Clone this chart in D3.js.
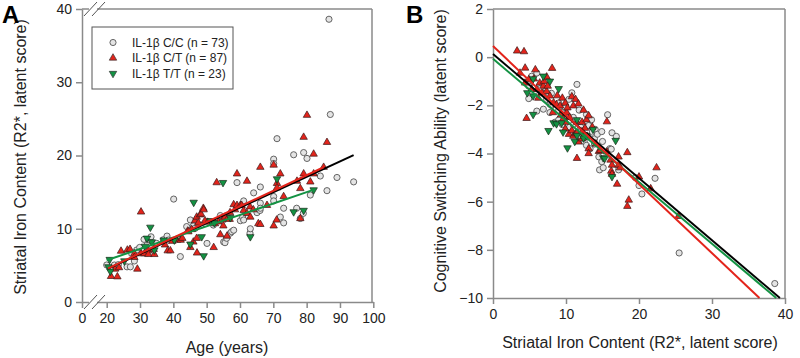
<!DOCTYPE html>
<html>
<head>
<meta charset="utf-8">
<script src="https://cdn.jsdelivr.net/npm/d3@7"></script>
<style>
  body { margin: 0; background: #fff; }
  svg { font-family: "Liberation Sans", Arial, sans-serif; }
</style>
</head>
<body>
<div id="chart-area"></div>
<script>
// panel A : age vs striatal iron, per IL-1b genotype
var ccA = [[20,5.05],[22.3,5.05],[23.1,4.7],[23.5,5.1],[26.1,4.8],[27.1,4.8],[27.5,6.6],[28.3,5.6],[29,7.1],[29.9,7.45],
  [31.3,7.2],[31.2,8.55],[32.1,7.8],[32.5,8.55],[33,8.45],[33.3,8.9],[35,8],[37,8.5],[38.1,9.0],[38.5,8.45],[40.1,14.05],
  [42.1,6.2],[44,10.3],[45.1,11.2],[46,10.4],[46.5,10.05],[48.3,10.5],[50.1,8.0],[52,10.5],[54.1,11.8],[55.1,8.2],
  [55.5,8.1],[56,8.7],[57.1,9.4],[57.5,9.6],[58.1,9.8],[59.1,16.3],[60.1,11.1],[60.8,11.6],[61.1,11.2],[61.1,13.8],
  [63,9.4],[63.1,10.0],[64.1,14.9],[65.1,12.2],[66,12.5],[66.1,15.7],[66.1,13.5],[66.1,12.8],[70.1,19.5],[70.1,18.9],
  [70.1,14.4],[70.1,13.8],[71.1,22.3],[72.1,11.6],[73.1,12.8],[73.1,10.8],[76.1,20.1],[77,12.8],[78.1,11.4],[79,12.1],
  [79.1,20.4],[80.1,19.6],[81.1,14.6],[84.1,17.2],[86.1,15.2],[86.7,38.6],[87.1,25.6],[89.1,17.0],[94.1,16.4]];
var ctA = [[21.3,3.5],[22.5,4.5],[23.2,3.45],[23.7,4.7],[24.3,6.95],[26.2,7.1],[27,7.2],[28.3,6.6],[28.3,6.1],[29.2,4.5],
  [30.3,6.6],[30.3,12.3],[31.3,6.6],[32.5,7.0],[32.5,6.5],[34.1,7.2],[34.3,6.5],[37.5,7.8],[38.3,7.0],[39.1,7.0],
  [39.7,8.3],[41.1,8.45],[42.2,8.45],[42.7,8.7],[44.3,9.7],[44.5,9.6],[45.1,7.45],[45.5,9.9],[46,8.2],[46.5,11.1],
  [47,8.7],[47,11.6],[47.1,6.7],[47.5,10.8],[48,11.9],[48.3,12.0],[49,12.8],[49.1,12.6],[49.5,11.1],[50.3,10.9],
  [52.1,7.45],[52.5,10.7],[53,16.3],[53.5,10.95],[54.1,9.2],[54.7,11.2],[55,10.4],[55.5,11.6],[56.1,9.0],[56.3,11.4],
  [56.9,11.3],[57,12.2],[58.1,13.3],[58.5,12.6],[59.1,13.2],[59.1,17.5],[60.1,13.2],[60.5,13.2],[61.1,12.5],[62.1,12.1],
  [62.1,16.5],[63,13],[63.1,11.6],[64,12.6],[65.5,10.7],[66.1,10.6],[66.1,18.4],[68.1,13.2],[70.1,10.4],[70.1,18.7],
  [71,11.2],[71.1,16.2],[71.1,15.6],[72.1,17.5],[73.1,14.4],[77.1,16.5],[78.1,15.5],[78.1,11.4],[79.1,17.5],[79.1,22.5],
  [80.1,25.5],[81.1,16.4],[82.1,20.2],[82.1,17.5],[85.1,18.4],[86.1,21.8]];
var ttA = [[20.5,4.8],[20.9,5.8],[21.1,4.2],[25.3,5.6],[31.5,7.6],[32.1,8.7],[33.1,10.2],[33.5,8.2],[34.3,7.1],[37.1,8.45],
  [40.3,8.45],[45.1,7.9],[46.1,13.6],[48.5,8.9],[49.1,6.3],[51.1,11.1],[52.3,10.8],[54.9,16.3],[57.1,11.5],[63.1,8.9],
  [71.1,16.8],[76.1,12.3],[79.1,12.5],[82.1,15.3]];
// fitted lines, endpoints in data units
var fitAllA = [[20.4,4.55],[94.1,20.05]];
var fitCtA = [[20.4,4.6],[85.1,18.4]];
var fitTtA = [[20,5.7],[82,15.3]];

// panel B : striatal iron vs cognitive switching
var ccB = [[4.9,-1.72],[5.1,-1.07],[4.9,-1.2],[5.3,-0.79],[6.0,-0.66],[6.0,-2.24],[6.5,-1.3],[6.9,-2.16],[7,-1.5],[7.35,-1.75],
  [7.8,-1.95],[7.8,-2.3],[8,-1.5],[8,-2.0],[8.5,-2.7],[9,-1.9],[9,-2.2],[9.0,-2.6],[9.5,-2.8],[9.6,-2.3],[9.9,-2.09],
  [10,-2.4],[10.4,-1.75],[10.5,-2.9],[10.8,-1.48],[11,-2.5],[11,-2.8],[11.5,-1.13],[11.8,-2.2],[12,-2.9],[12,-3.1],
  [12.5,-3.5],[12.8,-2.38],[12.8,-3.66],[13,-3.3],[13.1,-2.84],[13.3,-3.8],[13.5,-2.6],[13.6,-3.11],[13.9,-3.39],[13.9,-3.61],
  [14,-3.0],[14.3,-3.2],[14.5,-4.14],[14.6,-4.68],[14.9,-3.09],[14.9,-4.34],[15,-3.5],[15.1,-4.59],[15.7,-2.39],[16.0,-3.8],
  [16.2,-3.82],[16.3,-3.14],[16.9,-3.29],[17.2,-4.68],[19.5,-5.0],[20.0,-5.33],[20.4,-5.68],[22.2,-5.03],[25.5,-8.13],[38.6,-9.4]];
var ctB = [[3.3,0.26],[4.25,0.23],[3.7,-0.66],[4.4,-0.45],[4.4,-1.07],[4.6,-2.54],[4.9,-0.93],[5.3,-1.34],[5.6,-0.9],[5.8,-0.52],
  [6.0,-1.34],[6.2,-1.7],[6.4,-1.07],[6.7,-1.48],[6.9,-1.2],[7,-1.0],[7.35,-0.82],[7.35,-1.42],[7.5,-1.2],[7.8,-1.61],
  [8.1,-0.46],[8.2,-2.3],[8.3,-1.89],[8.7,-1.97],[8.8,-1.6],[9.2,-2.02],[9.3,-2.4],[9.5,-1.7],[9.6,-2.57],[9.9,-1.91],
  [9.9,-2.98],[10,-2.7],[10.1,-2.3],[10.2,-2.1],[10.4,-3.2],[10.5,-2.5],[10.8,-1.64],[10.8,-3.05],[11.0,-2.02],[11.0,-3.28],
  [11.3,-1.75],[11.3,-3.18],[11.5,-2.7],[11.5,-3.14],[11.5,-4.2],[11.7,-1.94],[11.7,-3.52],[12.2,-2.7],[12.2,-3.09],[12.2,-3.39],
  [12.4,-2.2],[12.4,-3.28],[12.6,-2.95],[12.8,-2.6],[12.9,-3.28],[13.1,-2.43],[13.1,-3.8],[13.1,-4.0],[13.6,-2.9],[14.1,-3.6],
  [14.5,-3.91],[14.7,-3.87],[15.6,-2.68],[15.6,-3.93],[16.1,-4.27],[16.2,-4.73],[16.3,-4.48],[16.3,-4.86],[17.0,-5.27],[17.2,-4.14],
  [17.2,-4.48],[17.4,-4.59],[18.4,-3.96],[18.4,-6.19],[18.6,-5.93],[20.0,-4.97],[21.6,-5.46],[22.4,-4.59],[25.4,-6.61]];
var ttB = [[4.7,-1.48],[5.5,-0.9],[5.5,-1.61],[5.5,-2.38],[6.9,-0.79],[7.6,-3.05],[7.8,-1.0],[8.3,-2.73],[8.7,-2.77],[9.0,-1.31],
  [9.4,-2.73],[9.6,-3.11],[10.2,-3.77],[11.2,-3.5],[11.5,-2.6],[11.5,-3.25],[12.4,-3.36],[12.8,-3.25],[13.7,-3.0],[15.1,-4.18],
  [15.3,-4.2],[16.3,-4.96],[16.8,-3.46]];
var fitAllB = [[0,0.13],[39.3,-10]];
var fitCtB = [[0,0.46],[36.5,-10]];
var fitTtB = [[0,-0.07],[38.8,-10]];

var legendLabels = ["IL-1\u03b2 C/C (n = 73)", "IL-1\u03b2 C/T (n = 87)", "IL-1\u03b2 T/T (n = 23)"];
var ticksAx = [0, 20, 30, 40, 50, 60, 70, 80, 90, 100];
var ticksAy = [0, 10, 20, 30, 40];
var ticksBx = [0, 10, 20, 30, 40];
var ticksBy = [2, 0, -2, -4, -6, -8, -10];

var W = 800, H = 358;
var axisColor = "#8a8a8a";
var red = "#e3241b", green = "#139243", black = "#000";

var svg = d3.select("#chart-area").append("svg")
  .attr("width", W).attr("height", H);

function styleAxis(g) {
  g.select(".domain").attr("stroke", axisColor).attr("stroke-width", 1.5);
  g.selectAll(".tick line").attr("stroke", axisColor).attr("stroke-width", 1.5);
  g.selectAll(".tick text").attr("fill", "#222").style("font-size", "14px");
}

var circleSym = d3.symbol().type(d3.symbolCircle).size(30);
var triSym = d3.symbol().type(d3.symbolTriangle).size(24);

function drawPoints(g, x, y, cc, ct, tt) {
  g.selectAll(".cc").data(cc).enter().append("path")
    .attr("class", "cc")
    .attr("d", circleSym)
    .attr("transform", d => "translate(" + x(d[0]) + "," + y(d[1]) + ")")
    .attr("fill", "#e4e4e4").attr("stroke", "#555").attr("stroke-width", 0.9);
  g.selectAll(".ct").data(ct).enter().append("path")
    .attr("class", "ct")
    .attr("d", triSym)
    .attr("transform", d => "translate(" + x(d[0]) + "," + y(d[1]) + ")")
    .attr("fill", red).attr("stroke", "#3a1a1a").attr("stroke-width", 0.7);
  g.selectAll(".tt").data(tt).enter().append("path")
    .attr("class", "tt")
    .attr("d", triSym)
    .attr("transform", d => "translate(" + x(d[0]) + "," + y(d[1]) + ") rotate(180)")
    .attr("fill", green).attr("stroke", "#1a2a1a").attr("stroke-width", 0.7);
}

function drawFits(g, x, y, fits) {
  var line = d3.line().x(d => x(d[0])).y(d => y(d[1]));
  fits.forEach(f => {
    g.append("path").datum(f[0])
      .attr("d", line)
      .attr("fill", "none")
      .attr("stroke", f[1])
      .attr("stroke-width", 2);
  });
}

// ---------- panel A ----------
var xA = d3.scaleLinear().domain([0, 20, 100]).range([82, 106.7, 373.3]);
var yA = d3.scaleLinear().domain([0, 40]).range([302, 9]);

var gA = svg.append("g");
// frame top / right
gA.append("line").attr("x1", xA(0)).attr("x2", 372).attr("y1", yA(40)).attr("y2", yA(40))
  .attr("stroke", axisColor).attr("stroke-width", 1.5);
gA.append("line").attr("x1", 372).attr("x2", 372).attr("y1", yA(40)).attr("y2", yA(0))
  .attr("stroke", axisColor).attr("stroke-width", 1.5);

gA.append("g").attr("transform", "translate(0," + yA(0) + ")")
  .call(d3.axisBottom(xA).tickValues(ticksAx).tickSize(6).tickSizeOuter(0).tickPadding(5))
  .call(styleAxis);
gA.append("g").attr("transform", "translate(" + xA(0) + ",0)")
  .call(d3.axisLeft(yA).tickValues(ticksAy).tickSize(6).tickSizeOuter(0).tickPadding(4))
  .call(styleAxis);

// axis break marks on bottom and top
[yA(0), yA(40)].forEach(yy => {
  gA.append("rect").attr("x", 89).attr("y", yy - 2).attr("width", 8).attr("height", 4).attr("fill", "#fff");
  [84, 92].forEach(x0 => {
    gA.append("line").attr("x1", x0).attr("y1", yy + 7).attr("x2", x0 + 13).attr("y2", yy - 7)
      .attr("stroke", "#555").attr("stroke-width", 1);
  });
});

drawPoints(gA, xA, yA, ccA, ctA, ttA);
drawFits(gA, xA, yA, [[fitAllA, black], [fitTtA, green], [fitCtA, red]]);

// legend
var leg = gA.append("g");
leg.append("rect").attr("x", 92).attr("y", 27).attr("width", 141).attr("height", 62)
  .attr("fill", "#fff").attr("stroke", "#555").attr("stroke-width", 1);
legendLabels.forEach((t, i) => {
  var yy = 42.5 + i * 15.5;
  var sym = leg.append("path")
    .attr("transform", "translate(113," + yy + ")" + (i == 2 ? " rotate(180)" : ""));
  if (i == 0) sym.attr("d", circleSym).attr("fill", "#e4e4e4").attr("stroke", "#555").attr("stroke-width", 0.9);
  else sym.attr("d", triSym).attr("fill", i == 1 ? red : green).attr("stroke", "#333").attr("stroke-width", 0.7);
  leg.append("text").attr("x", 132).attr("y", yy).attr("dy", "0.35em")
    .style("font-size", "12px").attr("fill", "#222").text(t);
});

gA.append("text").attr("x", 227).attr("y", 353).attr("text-anchor", "middle")
  .style("font-size", "16px").attr("fill", "#222").text("Age (years)");
gA.append("text").attr("transform", "translate(20,157) rotate(-90)")
  .attr("text-anchor", "middle").attr("dy", "0.35em")
  .style("font-size", "16px").attr("fill", "#222").text("Striatal Iron Content (R2*, latent score)");
gA.append("text").attr("x", 2).attr("y", 23)
  .style("font-size", "24px").style("font-weight", "bold").text("A");

// ---------- panel B ----------
var xB = d3.scaleLinear().domain([0, 40]).range([493, 785]);
var yB = d3.scaleLinear().domain([-10, 2]).range([298, 9]);

var gB = svg.append("g");
gB.append("line").attr("x1", xB(0)).attr("x2", xB(40)).attr("y1", yB(2)).attr("y2", yB(2))
  .attr("stroke", axisColor).attr("stroke-width", 1.5);
gB.append("line").attr("x1", xB(40)).attr("x2", xB(40)).attr("y1", yB(2)).attr("y2", yB(-10))
  .attr("stroke", axisColor).attr("stroke-width", 1.5);

gB.append("g").attr("transform", "translate(0," + yB(-10) + ")")
  .call(d3.axisBottom(xB).tickValues(ticksBx).tickSize(6).tickSizeOuter(0).tickPadding(5))
  .call(styleAxis);
gB.append("g").attr("transform", "translate(" + xB(0) + ",0)")
  .call(d3.axisLeft(yB).tickValues(ticksBy).tickSize(6).tickSizeOuter(0).tickPadding(4))
  .call(styleAxis);

drawPoints(gB, xB, yB, ccB, ctB, ttB);
drawFits(gB, xB, yB, [[fitAllB, black], [fitTtB, green], [fitCtB, red]]);

gB.append("text").attr("x", 640).attr("y", 348).attr("text-anchor", "middle")
  .style("font-size", "16px").attr("fill", "#222").text("Striatal Iron Content (R2*, latent score)");
gB.append("text").attr("transform", "translate(440,151) rotate(-90)")
  .attr("text-anchor", "middle").attr("dy", "0.35em")
  .style("font-size", "16px").attr("fill", "#222").text("Cognitive Switching Ability (latent score)");
gB.append("text").attr("x", 406).attr("y", 23)
  .style("font-size", "24px").style("font-weight", "bold").text("B");
</script>
</body>
</html>
